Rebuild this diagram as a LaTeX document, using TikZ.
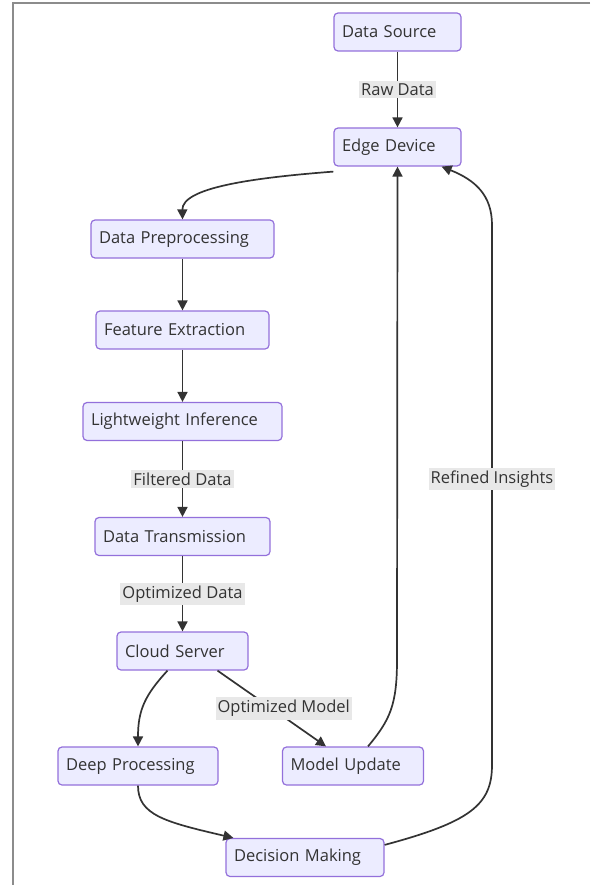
\documentclass[tikz,border=0pt]{standalone}
\usepackage{fontspec}
\setmainfont{Open Sans}
\usetikzlibrary{arrows.meta}
\definecolor{nodefill}{HTML}{ECECFF}
\definecolor{nodeline}{HTML}{9370DB}
\definecolor{edgecol}{HTML}{333333}
\definecolor{lblfill}{HTML}{E8E8E8}
\definecolor{framecol}{HTML}{8C8C8C}
\begin{document}
\begin{tikzpicture}[x=1pt,y=-1pt,
  box/.style={draw=nodeline, fill=nodefill, line width=1.2pt, rounded corners=4pt,
    minimum height=38pt, inner xsep=8pt, inner ysep=0pt, align=left,
    font=\fontsize{16.5}{19}\selectfont, text=edgecol},
  lbl/.style={fill=lblfill, inner xsep=2pt, inner ysep=3pt,
    font=\fontsize{16.5}{19}\selectfont, text=edgecol},
  flow/.style={draw=edgecol, line width=1.7pt, -{Triangle[length=10pt,width=10pt]}}]
\useasboundingbox (0,0) rectangle (590,885);
% frame
\draw[framecol, line width=2pt] (590,3) -- (13,3) -- (13,885);

% nodes
\node[box, text width=111pt] (ds) at (397.5,32) {Data Source};
\node[box, text width=111pt] (ed) at (397.5,147) {Edge Device};
\node[box, text width=167pt] (dp) at (182.5,239) {Data Preprocessing};
\node[box, text width=157pt] (fe) at (182.5,330) {Feature Extraction};
\node[box, text width=183pt] (li) at (182.5,421.5) {Lightweight Inference};
\node[box, text width=159pt] (dt) at (182.5,536.5) {Data Transmission};
\node[box, text width=115pt] (cs) at (182.5,651) {Cloud Server};
\node[box, text width=144pt] (dpr) at (138,766) {Deep Processing};
\node[box, text width=125pt] (mu) at (353,766) {Model Update};
\node[box, text width=142pt] (dm) at (305,857.5) {Decision Making};

% anchor points on the node borders
\coordinate (edL) at ([yshift=-5pt]ed.south west);
\coordinate (edR) at ([xshift=-20pt]ed.south east);
\coordinate (csL) at ([xshift=-15pt]cs.south);
\coordinate (csR) at ([xshift=35pt]cs.south);
\coordinate (muT) at ([xshift=15pt]mu.north);
\coordinate (dmL) at ([xshift=8pt]dm.north west);
\coordinate (dmR) at ([yshift=-7pt]dm.north east);

% connectors
\draw[flow] (ds) -- node[lbl] {Raw Data} (ed);
\draw[flow] (edL) .. controls (250,178) and (182,188) .. (dp.north);
\draw[flow] (dp) -- (fe);
\draw[flow] (fe) -- (li);
\draw[flow] (li) -- node[lbl] {Filtered Data} (dt);
\draw[flow] (dt) -- node[lbl] {Optimized Data} (cs);
\draw[flow] (csL) .. controls (145,695) and (138,710) .. (dpr.north);
\draw[flow] (csR) -- node[lbl, pos=0.5, xshift=12pt] {Optimized Model} ([xshift=-27pt]mu.north);
\draw[flow] (muT) .. controls (390,720) and (397,705) .. (397,660) -- (ed.south);
\draw[flow] (dpr.south) .. controls (138,815) and (165,822) .. (dmL);
\draw[flow] (dmR) .. controls (470,822) and (492,805) .. (492,765)
  -- node[lbl, pos=0.53] {Refined Insights} (492,225)
  .. controls (492,195) and (475,180) .. (edR);
\end{tikzpicture}
\end{document}
